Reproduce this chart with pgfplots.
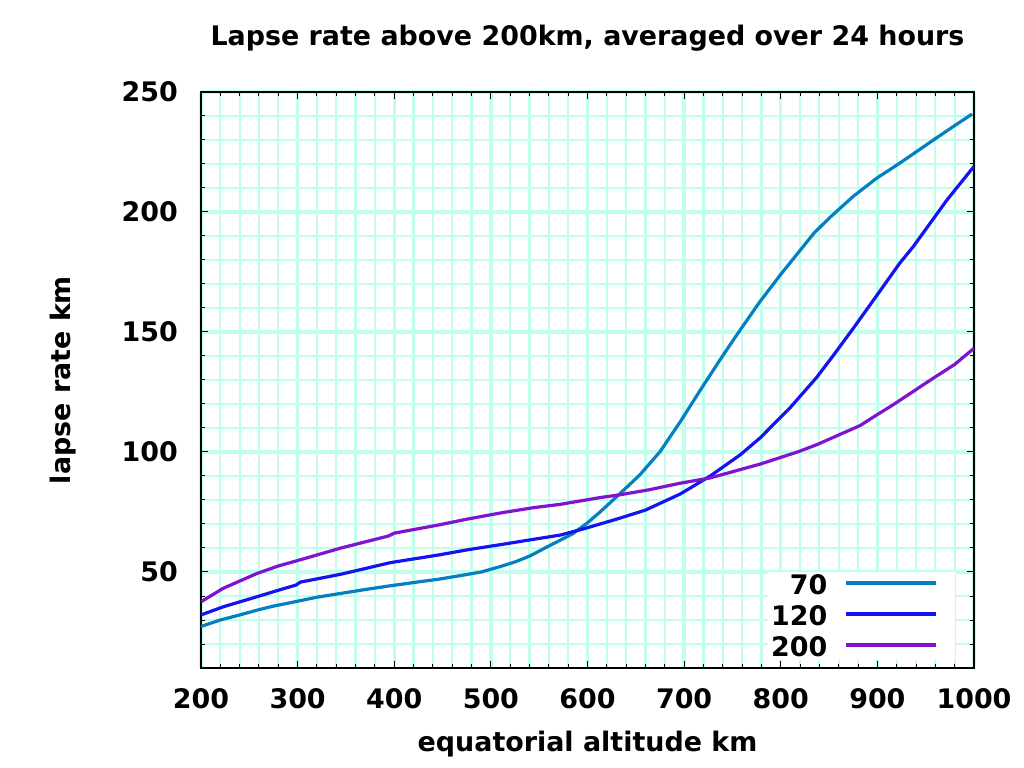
\documentclass[border=0pt]{standalone}
\usepackage{fontspec}
\setmainfont{DejaVu Sans}
\usepackage{pgfplots}
\pgfplotsset{compat=1.18}
\definecolor{c70}{HTML}{0480C2}
\definecolor{c120}{HTML}{1414F0}
\definecolor{c200}{HTML}{8012D2}
\definecolor{gridc}{HTML}{C0FFEC}
\newcommand\lbl{\fontsize{27}{32}\selectfont\bfseries}

\begin{document}
\begin{tikzpicture}
\useasboundingbox (-201bp,-100bp) rectangle (823bp,668bp);
\begin{axis}[
  scale only axis, width=773bp, height=576bp,
  xmin=200, xmax=1000, ymin=10, ymax=250,
  xtick={200,300,...,1000}, ytick={50,100,...,250},
  minor xtick={220,240,...,980}, minor ytick={20,30,...,240},
  grid=both,
  major grid style={draw=gridc, line width=3.4bp},
  minor grid style={draw=gridc, line width=2.2bp},
  axis line style={line width=1.2bp},
  tick style={black, line width=1bp},
  major tick length=7bp, minor tick length=4bp,
  /pgf/number format/assume math mode=true,
  /pgf/number format/1000 sep={},
  tick label style={font=\lbl, inner sep=0pt},
  xticklabel style={yshift=-20bp},
  yticklabel style={xshift=-23bp},
  title={Lapse rate above 200km, averaged over 24 hours},
  title style={font=\lbl, at={(axis description cs:0.5,1)}, anchor=center, yshift=48bp},
  xlabel={equatorial altitude km},
  xlabel style={font=\lbl, at={(axis description cs:0.5,0)}, anchor=center, yshift=-76bp},
  ylabel={lapse rate km},
  ylabel style={font=\lbl, at={(axis description cs:0,0.5)}, anchor=center, yshift=138bp},
  every axis plot/.append style={line width=3.2bp, line join=round},
  legend style={draw=none, fill=white, at={(rel axis cs:0.7335,0.0139)}, anchor=south west,
    font=\lbl, inner xsep=3bp, inner ysep=3bp, row sep=11.5bp, column sep=17bp,
    nodes={inner sep=0pt, text height=19.5bp, text depth=0pt}},
  legend cell align=right, legend plot pos=right,
  legend image code/.code={\draw[#1] (0bp,2bp) -- (90bp,2bp); \path (0bp,0bp) (104bp,0bp);},
]
\addplot[c70] coordinates {
(200,27.3) (220,30.0) (240,32.1) (260,34.3) (275,35.8) (290,37.0) (302,38.0)
(320,39.5) (345,41.1) (370,42.7) (395,44.2) (420,45.6) (446,47.0) (470,48.6)
(490,50.0) (510,52.3) (525,54.2) (540,56.6) (556,60.0) (572,63.3) (585,66.0)
(600,70.5) (613,75.0) (634,82.8) (654,90.4) (675,100.1) (696,112.6) (716,125.3)
(737,138.3) (751,146.7) (758,150.8) (778,162.4) (800,174.0) (820,184.0) (834,191.0)
(850,197.4) (875,206.5) (899,214.0) (923,220.3) (958,230.0) (980,236.0) (998,240.8)
};
\addplot[c120] coordinates {
(200,32.1) (223,35.5) (258,39.7) (285,43.0) (298,44.5) (303,45.8) (344,49.0)
(396,53.9) (446,57.1) (475,59.2) (510,61.4) (544,63.6) (572,65.4) (596,68.0)
(613,70.0) (630,72.0) (660,75.8) (696,82.5) (727,90.0) (758,98.8) (779,106.0)
(810,118.6) (837,131.0) (854,140.0) (875,151.5) (896,163.3) (923,178.6)
(937,185.5) (972,205.0) (1000,219.0)
};
\addplot[c200] coordinates {
(200,37.6) (223,43.2) (258,49.4) (280,52.5) (302,55.0) (344,59.9) (394,65.0)
(400,66.2) (446,69.6) (475,72.0) (510,74.6) (544,76.8) (572,78.2) (613,81.0)
(634,82.2) (663,84.2) (696,87.0) (727,89.2) (779,95.0) (818,100.1) (837,103.0)
(882,111.0) (900,115.6) (916,119.6) (955,130.0) (980,136.5) (1000,143.2)
};
\legend{70,120,200}
\end{axis}
\end{tikzpicture}
\end{document}
